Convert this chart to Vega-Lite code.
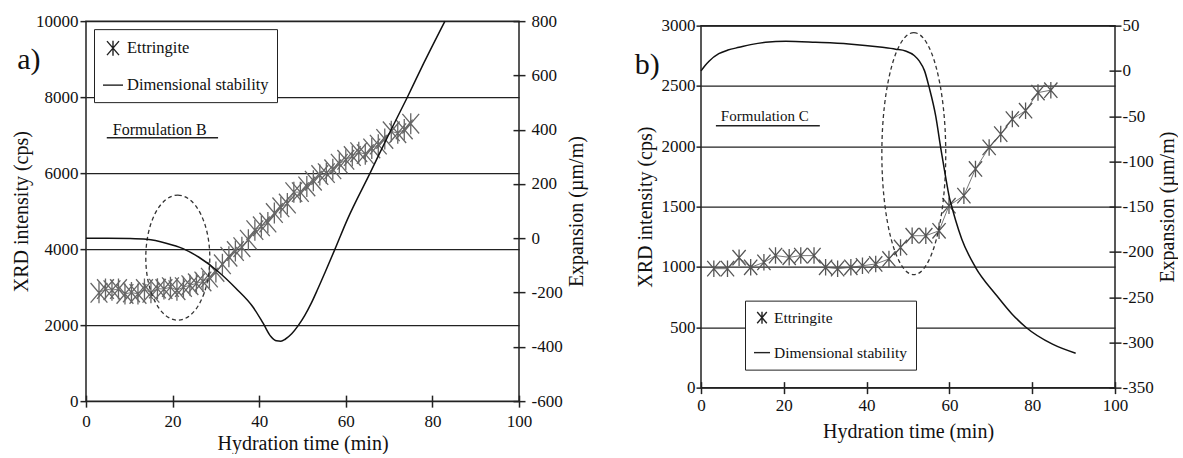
{
  "$schema": "https://vega.github.io/schema/vega-lite/v6.json",
  "background": "white",
  "padding": {"left": 10, "top": 11, "right": 0, "bottom": 0},
  "spacing": 46,
  "center": true,
  "datasets": {
    "ettA": [
      {"t": 3, "cps": 2850, "series": "Ettringite"}, {"t": 4.5, "cps": 2950, "series": "Ettringite"},
      {"t": 6, "cps": 2920, "series": "Ettringite"}, {"t": 7.5, "cps": 2950, "series": "Ettringite"},
      {"t": 9, "cps": 2820, "series": "Ettringite"}, {"t": 10.5, "cps": 2860, "series": "Ettringite"},
      {"t": 12, "cps": 2820, "series": "Ettringite"}, {"t": 13.5, "cps": 2950, "series": "Ettringite"},
      {"t": 15, "cps": 2850, "series": "Ettringite"}, {"t": 16.5, "cps": 2960, "series": "Ettringite"},
      {"t": 18, "cps": 2950, "series": "Ettringite"}, {"t": 19.5, "cps": 3000, "series": "Ettringite"},
      {"t": 21, "cps": 2920, "series": "Ettringite"}, {"t": 22.5, "cps": 3000, "series": "Ettringite"},
      {"t": 24, "cps": 3050, "series": "Ettringite"}, {"t": 25.5, "cps": 3100, "series": "Ettringite"},
      {"t": 27, "cps": 3150, "series": "Ettringite"}, {"t": 28.5, "cps": 3250, "series": "Ettringite"},
      {"t": 30, "cps": 3400, "series": "Ettringite"}, {"t": 31.5, "cps": 3600, "series": "Ettringite"},
      {"t": 33, "cps": 3800, "series": "Ettringite"}, {"t": 34.5, "cps": 3950, "series": "Ettringite"},
      {"t": 36, "cps": 4050, "series": "Ettringite"}, {"t": 37.5, "cps": 4250, "series": "Ettringite"},
      {"t": 39, "cps": 4500, "series": "Ettringite"}, {"t": 40.5, "cps": 4600, "series": "Ettringite"},
      {"t": 42, "cps": 4700, "series": "Ettringite"}, {"t": 43.5, "cps": 4950, "series": "Ettringite"},
      {"t": 45, "cps": 5100, "series": "Ettringite"}, {"t": 46.5, "cps": 5200, "series": "Ettringite"},
      {"t": 48, "cps": 5500, "series": "Ettringite"}, {"t": 49.5, "cps": 5500, "series": "Ettringite"},
      {"t": 51, "cps": 5650, "series": "Ettringite"}, {"t": 52.5, "cps": 5800, "series": "Ettringite"},
      {"t": 54, "cps": 5950, "series": "Ettringite"}, {"t": 55.5, "cps": 6000, "series": "Ettringite"},
      {"t": 57, "cps": 6100, "series": "Ettringite"}, {"t": 58.5, "cps": 6250, "series": "Ettringite"},
      {"t": 60, "cps": 6350, "series": "Ettringite"}, {"t": 61.5, "cps": 6450, "series": "Ettringite"},
      {"t": 63, "cps": 6550, "series": "Ettringite"}, {"t": 64.5, "cps": 6500, "series": "Ettringite"},
      {"t": 66, "cps": 6650, "series": "Ettringite"}, {"t": 67.5, "cps": 6750, "series": "Ettringite"},
      {"t": 69, "cps": 6900, "series": "Ettringite"}, {"t": 70.5, "cps": 7100, "series": "Ettringite"},
      {"t": 72, "cps": 7050, "series": "Ettringite"}, {"t": 73.5, "cps": 7150, "series": "Ettringite"},
      {"t": 75, "cps": 7300, "series": "Ettringite"}
    ],
    "dimA": [
      {"t": 0, "exp": 0}, {"t": 5, "exp": 0}, {"t": 10, "exp": -1}, {"t": 14, "exp": -4},
      {"t": 18.5, "exp": -18}, {"t": 22.4, "exp": -38}, {"t": 26, "exp": -69}, {"t": 30.7, "exp": -125},
      {"t": 34.6, "exp": -184}, {"t": 38.6, "exp": -254}, {"t": 40.9, "exp": -313}, {"t": 42.7, "exp": -362},
      {"t": 44, "exp": -378}, {"t": 45, "exp": -379}, {"t": 46, "exp": -372}, {"t": 47.5, "exp": -352},
      {"t": 49, "exp": -322}, {"t": 50.5, "exp": -285}, {"t": 52, "exp": -240}, {"t": 53.5, "exp": -188},
      {"t": 55.2, "exp": -126}, {"t": 57.5, "exp": -40},
      {"t": 60.3, "exp": 67}, {"t": 65.6, "exp": 240}, {"t": 70, "exp": 385}, {"t": 74.1, "exp": 516},
      {"t": 78, "exp": 645}, {"t": 82.9, "exp": 800}
    ],
    "ettB": [
      {"t": 3.1, "cps": 986, "series": "Ettringite"}, {"t": 6.4, "cps": 986, "series": "Ettringite"},
      {"t": 9.2, "cps": 1077, "series": "Ettringite"}, {"t": 12, "cps": 997, "series": "Ettringite"},
      {"t": 15.2, "cps": 1038, "series": "Ettringite"}, {"t": 18, "cps": 1094, "series": "Ettringite"},
      {"t": 21.3, "cps": 1080, "series": "Ettringite"}, {"t": 24.1, "cps": 1094, "series": "Ettringite"},
      {"t": 27.3, "cps": 1094, "series": "Ettringite"}, {"t": 30.1, "cps": 997, "series": "Ettringite"},
      {"t": 33, "cps": 986, "series": "Ettringite"}, {"t": 36.2, "cps": 997, "series": "Ettringite"},
      {"t": 39, "cps": 1010, "series": "Ettringite"}, {"t": 42.2, "cps": 1025, "series": "Ettringite"},
      {"t": 45.4, "cps": 1066, "series": "Ettringite"}, {"t": 48.2, "cps": 1162, "series": "Ettringite"},
      {"t": 51, "cps": 1259, "series": "Ettringite"}, {"t": 54.3, "cps": 1259, "series": "Ettringite"},
      {"t": 57.5, "cps": 1300, "series": "Ettringite"}, {"t": 59.9, "cps": 1508, "series": "Ettringite"},
      {"t": 63.5, "cps": 1591, "series": "Ettringite"}, {"t": 66.3, "cps": 1812, "series": "Ettringite"},
      {"t": 69.6, "cps": 1991, "series": "Ettringite"}, {"t": 72.4, "cps": 2101, "series": "Ettringite"},
      {"t": 75.2, "cps": 2226, "series": "Ettringite"}, {"t": 78.4, "cps": 2295, "series": "Ettringite"},
      {"t": 81.4, "cps": 2445, "series": "Ettringite"}, {"t": 84.5, "cps": 2465, "series": "Ettringite"}
    ],
    "dimB": [
      {"t": 0, "exp": 0}, {"t": 1, "exp": 6}, {"t": 2, "exp": 11}, {"t": 4.3, "exp": 19},
      {"t": 6.5, "exp": 23}, {"t": 9.2, "exp": 26}, {"t": 12, "exp": 29}, {"t": 15.6, "exp": 31.6},
      {"t": 20.5, "exp": 32.7}, {"t": 27.7, "exp": 31.6}, {"t": 35.7, "exp": 29.8}, {"t": 43.8, "exp": 26},
      {"t": 47, "exp": 24}, {"t": 49.4, "exp": 22}, {"t": 51.5, "exp": 17}, {"t": 52.7, "exp": 11},
      {"t": 54, "exp": 0}, {"t": 55.1, "exp": -18}, {"t": 56.7, "exp": -50}, {"t": 57.9, "exp": -85},
      {"t": 59, "exp": -115}, {"t": 60, "exp": -140}, {"t": 60.7, "exp": -152}, {"t": 61.5, "exp": -165},
      {"t": 63, "exp": -186}, {"t": 66.3, "exp": -217}, {"t": 71.2, "exp": -247}, {"t": 75, "exp": -268},
      {"t": 78.4, "exp": -283}, {"t": 84.9, "exp": -302}, {"t": 90.5, "exp": -312}
    ]
  },
  "resolve": {"scale": {"shape": "independent"}, "legend": {"shape": "independent"}},
  "hconcat": [
    {
      "width": 433,
      "height": 380,
      "resolve": {"scale": {"y": "independent"}},
      "layer": [
        {
          "layer": [
            {
              "data": {"name": "ettA"},
              "mark": {"type": "line", "color": "#555", "strokeWidth": 0.8},
              "encoding": {
                "x": {"field": "t", "type": "quantitative", "title": "Hydration time (min)",
                  "scale": {"domain": [0, 100], "nice": false},
                  "axis": {"values": [0, 20, 40, 60, 80, 100], "offset": -6, "tickSize": 12, "labelPadding": 6, "titlePadding": 4, "labelFlush": false, "grid": false, "domain": false}},
                "y": {"field": "cps", "type": "quantitative", "title": "XRD intensity (cps)",
                  "scale": {"domain": [0, 10000], "nice": false, "zero": false},
                  "axis": {"values": [0, 2000, 4000, 6000, 8000, 10000], "tickSize": 6, "labelPadding": 2, "titlePadding": 4, "grid": true, "domain": false, "labelExpr": "'' + datum.value"}}
              }
            },
            {
              "data": {"name": "ettA"},
              "mark": {"type": "point", "filled": false, "color": "#666", "strokeWidth": 1.3, "size": 784, "opacity": 1},
              "encoding": {
                "x": {"field": "t", "type": "quantitative", "title": "Hydration time (min)"},
                "y": {"field": "cps", "type": "quantitative", "title": "XRD intensity (cps)"},
                "shape": {"field": "series", "type": "nominal",
                  "scale": {"domain": ["Ettringite", "Dimensional stability"], "range": ["M-0.6,-0.7L0.6,0.7M0.6,-0.7L-0.6,0.7M0,-0.75L0,0.75", "M-1,0L1,0"]},
                  "legend": {"orient": "none", "legendX": 8, "legendY": 8, "title": null, "padding": 8, "strokeColor": "#222", "fillColor": "white", "labelFontSize": 16.5, "labelColor": "#111", "labelLimit": 400, "symbolSize": 400, "rowPadding": 15, "symbolStrokeColor": "#222", "symbolStrokeWidth": 1.4, "symbolFillColor": "transparent", "labelOffset": 3}}
              }
            },
            {
              "data": {"values": [{}]},
              "mark": {"type": "point", "shape": "M0,-1C0.283,-1 0.512,-0.552 0.512,0C0.512,0.552 0.283,1 0,1C-0.283,1 -0.512,0.552 -0.512,0C-0.512,-0.552 -0.283,-1 0,-1Z", "size": 15625, "filled": false, "color": "#333", "strokeWidth": 1.3, "strokeDash": [4, 3], "opacity": 1},
              "encoding": {
                "x": {"datum": 21.2, "type": "quantitative", "title": "Hydration time (min)"},
                "y": {"datum": 3776, "type": "quantitative", "title": "XRD intensity (cps)"}
              }
            },
            {
              "data": {"values": [{}]},
              "mark": {"type": "text", "text": "Formulation B", "align": "left", "baseline": "middle", "fontSize": 16, "color": "#111"},
              "encoding": {
                "x": {"datum": 6.2, "type": "quantitative", "title": "Hydration time (min)"},
                "y": {"datum": 7130, "type": "quantitative", "title": "XRD intensity (cps)"}
              }
            },
            {
              "data": {"values": [{}]},
              "mark": {"type": "rule", "color": "#222", "strokeWidth": 1.5},
              "encoding": {
                "x": {"datum": 4.8, "type": "quantitative", "title": "Hydration time (min)"},
                "x2": {"datum": 30.5},
                "y": {"datum": 6934, "type": "quantitative", "title": "XRD intensity (cps)"}
              }
            },
            {
              "data": {"values": [{}]},
              "mark": {"type": "text", "text": "a)", "align": "center", "baseline": "middle", "fontSize": 30, "color": "#111"},
              "encoding": {
                "x": {"datum": -13.2, "type": "quantitative", "title": "Hydration time (min)"},
                "y": {"datum": 8974, "type": "quantitative", "title": "XRD intensity (cps)"}
              }
            }
          ]
        },
        {
          "data": {"name": "dimA"},
          "mark": {"type": "line", "color": "#111", "strokeWidth": 1.5, "interpolate": "monotone"},
          "encoding": {
            "x": {"field": "t", "type": "quantitative", "title": "Hydration time (min)"},
            "y": {"field": "exp", "type": "quantitative", "title": "Expansion (µm/m)",
              "scale": {"domain": [-600, 800], "nice": false, "zero": false},
              "axis": {"orient": "right", "values": [-600, -400, -200, 0, 200, 400, 600, 800], "offset": -6, "tickSize": 12, "labelPadding": 6, "titlePadding": 4, "titleAngle": 270, "titleBaseline": "top", "grid": false, "domain": false, "labelExpr": "'' + datum.value"}}
          }
        }
      ]
    },
    {
      "width": 414,
      "height": 362,
      "resolve": {"scale": {"y": "independent"}},
      "layer": [
        {
          "layer": [
            {
              "data": {"name": "ettB"},
              "mark": {"type": "line", "color": "#555", "strokeWidth": 0.8},
              "encoding": {
                "x": {"field": "t", "type": "quantitative", "title": "Hydration time (min)",
                  "scale": {"domain": [0, 100], "nice": false},
                  "axis": {"values": [0, 20, 40, 60, 80, 100], "offset": -6, "tickSize": 12, "labelPadding": 4, "titlePadding": 8, "labelFlush": false, "grid": false, "domain": false}},
                "y": {"field": "cps", "type": "quantitative", "title": "XRD intensity (cps)",
                  "scale": {"domain": [0, 3000], "nice": false, "zero": false},
                  "axis": {"values": [0, 500, 1000, 1500, 2000, 2500, 3000], "tickSize": 5, "labelPadding": 1, "titlePadding": 6, "grid": true, "domain": false, "labelExpr": "'' + datum.value"}}
              }
            },
            {
              "data": {"name": "ettB"},
              "mark": {"type": "point", "filled": false, "color": "#555", "strokeWidth": 1.3, "size": 484, "opacity": 1},
              "encoding": {
                "x": {"field": "t", "type": "quantitative", "title": "Hydration time (min)"},
                "y": {"field": "cps", "type": "quantitative", "title": "XRD intensity (cps)"},
                "shape": {"field": "series", "type": "nominal",
                  "scale": {"domain": ["Ettringite", "Dimensional stability"], "range": ["M-0.6,-0.7L0.6,0.7M0.6,-0.7L-0.6,0.7M0,-0.75L0,0.75", "M-1,0L1,0"]},
                  "legend": {"orient": "none", "legendX": 44, "legendY": 275, "title": null, "padding": 8, "strokeColor": "#222", "fillColor": "white", "labelFontSize": 15.5, "labelColor": "#111", "labelLimit": 400, "symbolSize": 256, "rowPadding": 17, "symbolStrokeColor": "#222", "symbolStrokeWidth": 1.4, "symbolFillColor": "transparent", "labelOffset": 3}}
              }
            },
            {
              "data": {"values": [{}]},
              "mark": {"type": "point", "shape": "M0,-1C0.146,-1 0.264,-0.552 0.264,0C0.264,0.552 0.146,1 0,1C-0.146,1 -0.264,0.552 -0.264,0C-0.264,-0.552 -0.146,-1 0,-1Z", "size": 58564, "filled": false, "color": "#333", "strokeWidth": 1.3, "strokeDash": [4, 3], "opacity": 1},
              "encoding": {
                "x": {"datum": 51.4, "type": "quantitative", "title": "Hydration time (min)"},
                "y": {"datum": 1939, "type": "quantitative", "title": "XRD intensity (cps)"}
              }
            },
            {
              "data": {"values": [{}]},
              "mark": {"type": "text", "text": "Formulation C", "align": "left", "baseline": "middle", "fontSize": 15, "color": "#111"},
              "encoding": {
                "x": {"datum": 4.8, "type": "quantitative", "title": "Hydration time (min)"},
                "y": {"datum": 2253, "type": "quantitative", "title": "XRD intensity (cps)"}
              }
            },
            {
              "data": {"values": [{}]},
              "mark": {"type": "rule", "color": "#222", "strokeWidth": 1.5},
              "encoding": {
                "x": {"datum": 3.6, "type": "quantitative", "title": "Hydration time (min)"},
                "x2": {"datum": 28.7},
                "y": {"datum": 2171, "type": "quantitative", "title": "XRD intensity (cps)"}
              }
            },
            {
              "data": {"values": [{}]},
              "mark": {"type": "text", "text": "b)", "align": "center", "baseline": "middle", "fontSize": 30, "color": "#111"},
              "encoding": {
                "x": {"datum": -13, "type": "quantitative", "title": "Hydration time (min)"},
                "y": {"datum": 2676, "type": "quantitative", "title": "XRD intensity (cps)"}
              }
            },
            {
              "data": {"values": [{}]},
              "mark": {"type": "text", "text": ".", "align": "center", "baseline": "top", "fontSize": 4, "dy": 57, "opacity": 0},
              "encoding": {
                "x": {"datum": 50, "type": "quantitative", "title": "Hydration time (min)"},
                "y": {"datum": 0, "type": "quantitative", "title": "XRD intensity (cps)"}
              }
            }
          ]
        },
        {
          "data": {"name": "dimB"},
          "mark": {"type": "line", "color": "#111", "strokeWidth": 1.5, "interpolate": "monotone"},
          "encoding": {
            "x": {"field": "t", "type": "quantitative", "title": "Hydration time (min)"},
            "y": {"field": "exp", "type": "quantitative", "title": "Expansion (µm/m)",
              "scale": {"domain": [-350, 50], "nice": false, "zero": false},
              "axis": {"orient": "right", "values": [-350, -300, -250, -200, -150, -100, -50, 0, 50], "offset": -6, "tickSize": 12, "labelPadding": 1, "titlePadding": 4, "titleAngle": 270, "titleBaseline": "top", "grid": false, "domain": false, "labelExpr": "'' + datum.value"}}
          }
        }
      ]
    }
  ],
  "config": {
    "font": "Liberation Serif, Times New Roman, serif",
    "view": {"stroke": "#222", "strokeWidth": 1.5},
    "text": {"font": "Liberation Serif, Times New Roman, serif"},
    "legend": {"labelFont": "Liberation Serif, Times New Roman, serif"},
    "axis": {"labelFont": "Liberation Serif, Times New Roman, serif", "titleFont": "Liberation Serif, Times New Roman, serif", "labelFontSize": 17, "titleFontSize": 20, "titleFontWeight": "normal", "labelColor": "#111", "titleColor": "#111", "tickColor": "#222", "tickWidth": 1.5, "gridColor": "#222", "gridWidth": 1.4, "gridOpacity": 1}
  }
}
